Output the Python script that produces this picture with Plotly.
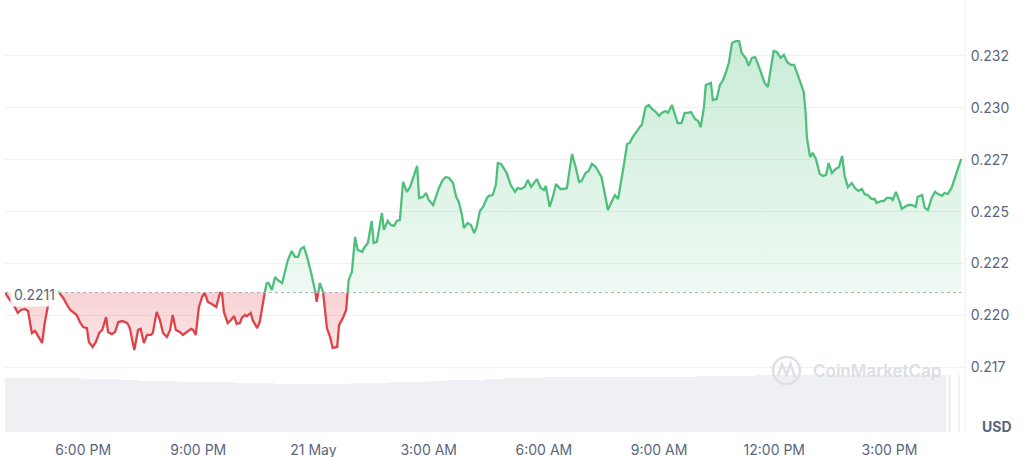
import numpy as np
import pandas as pd
import plotly.graph_objects as go

# ---------------- data ----------------
start_time = "2024-05-20 15:58"
baseline_price = 0.2211

# minutes after start_time
minutes = [
    0, 8, 16, 20, 25, 31, 36, 42, 47, 50, 58, 62, 66, 70, 77, 81, 86, 91, 97, 102,
    106, 112, 117, 122, 128, 131, 137, 142, 147, 152, 158, 161, 167, 172, 177, 184, 191, 195, 202, 208,
    212, 217, 222, 228, 231, 237, 242, 247, 253, 258, 262, 267, 273, 278, 284, 291, 294, 298, 303,
    308, 312, 317, 323, 330, 336, 339, 342, 348, 353, 358, 362, 367, 370, 375, 378, 384, 387, 394, 398,
    401, 406, 409, 412, 417, 422, 426, 433, 437, 442, 448, 453, 458, 462, 467, 472, 478, 484, 487, 492,
    497, 503, 508, 512, 519, 522, 528, 533, 537, 542, 547, 551, 558, 562, 567,
    573, 576, 581, 589, 592, 598, 603, 608, 612, 617, 622, 628, 633, 639, 644, 647, 653, 658, 662, 669,
    673, 678, 684, 689, 694, 700, 705, 709, 714, 717, 723, 728, 733, 737, 742, 747, 753, 756, 762, 767,
    770, 775, 781, 784, 790, 797, 801, 806, 812, 817, 822, 828, 831,
    837, 842, 845, 851, 856, 861, 868, 872, 878, 882, 886, 892, 897, 901, 907, 912, 917, 923, 928, 932,
    937, 942, 947, 953, 958, 962, 967, 972, 976, 981, 986, 992, 995, 1001, 1006, 1011, 1017, 1022, 1026, 1032,
    1036, 1042, 1047, 1051, 1057, 1062, 1067, 1072, 1078, 1083, 1087, 1092,
    1095, 1103, 1106, 1112, 1117, 1122, 1126, 1131, 1136, 1142, 1147, 1151, 1158, 1162, 1167, 1172, 1176, 1183, 1187, 1192,
    1197, 1201, 1206, 1212, 1217, 1222, 1228, 1233, 1237, 1243, 1248, 1251, 1253, 1258, 1262, 1267, 1273, 1278, 1283, 1287,
    1292, 1298, 1303, 1308, 1312, 1317,
    1323, 1328, 1333, 1339, 1343, 1348, 1354, 1359, 1362, 1369, 1373, 1378, 1384, 1387, 1392, 1398, 1401, 1408, 1412, 1417,
    1423, 1426, 1433, 1437, 1442, 1448, 1453, 1458, 1464, 1468, 1473, 1479, 1484, 1489, 1494,
]

prices = [
    0.22110, 0.22074, 0.22036, 0.22012, 0.22026, 0.22031, 0.22021, 0.21915, 0.21925, 0.21910,
    0.21867, 0.21963, 0.22036, 0.22094, 0.22113, 0.22122, 0.22103, 0.22084, 0.22050, 0.22026,
    0.22017, 0.22002, 0.21968, 0.21944, 0.21939, 0.21872, 0.21848, 0.21872, 0.21915, 0.21930,
    0.21992, 0.21920, 0.21910, 0.21920, 0.21968, 0.21973, 0.21963, 0.21939, 0.21833, 0.21930,
    0.21935, 0.21867, 0.21906, 0.21906, 0.21915, 0.22017, 0.21978, 0.21915, 0.21896, 0.21930,
    0.22002, 0.21930, 0.21920, 0.21906, 0.21920, 0.21935, 0.21930, 0.21906, 0.22041,
    0.22089, 0.22108, 0.22065, 0.22055, 0.22041, 0.22108, 0.22108, 0.22017, 0.21963, 0.21978,
    0.21997, 0.21959, 0.21963, 0.21988, 0.22002, 0.21997, 0.22012, 0.21978, 0.21939, 0.21968,
    0.22026, 0.22113, 0.22156, 0.22156, 0.22122, 0.22185, 0.22171, 0.22156, 0.22204, 0.22267,
    0.22310, 0.22282, 0.22282, 0.22320, 0.22330, 0.22282, 0.22209, 0.22137, 0.22065, 0.22156,
    0.22113, 0.21939, 0.21896, 0.21843, 0.21848, 0.21954, 0.21988, 0.22026, 0.22171, 0.22209,
    0.22378, 0.22315, 0.22306, 0.22330, 0.22349,
    0.22455, 0.22349, 0.22354, 0.22494, 0.22412, 0.22455, 0.22436, 0.22431, 0.22455, 0.22460,
    0.22643, 0.22595, 0.22619, 0.22677, 0.22720, 0.22566, 0.22571, 0.22590, 0.22556, 0.22532,
    0.22571, 0.22614, 0.22653, 0.22667, 0.22662, 0.22638, 0.22571, 0.22547, 0.22484, 0.22421,
    0.22445, 0.22436, 0.22397, 0.22426, 0.22503, 0.22523, 0.22566, 0.22576, 0.22580, 0.22629,
    0.22734, 0.22730, 0.22701, 0.22686, 0.22629, 0.22595, 0.22614, 0.22609, 0.22619, 0.22653,
    0.22619, 0.22643, 0.22657,
    0.22614, 0.22604, 0.22624, 0.22523, 0.22571, 0.22633, 0.22609, 0.22609, 0.22614, 0.22701,
    0.22778, 0.22710, 0.22643, 0.22648, 0.22686, 0.22696, 0.22730, 0.22715, 0.22686, 0.22667,
    0.22590, 0.22508, 0.22542, 0.22580, 0.22561, 0.22629, 0.22725, 0.22826, 0.22831, 0.22860,
    0.22884, 0.22908, 0.22918, 0.23004, 0.23014, 0.22995, 0.22980, 0.22961, 0.22976, 0.22985,
    0.22976, 0.23014, 0.22966, 0.22927, 0.22927, 0.22976, 0.22976, 0.22980, 0.22947, 0.22937,
    0.22908, 0.23000,
    0.23110, 0.23120, 0.23038, 0.23043, 0.23110, 0.23134, 0.23168, 0.23216, 0.23313, 0.23322,
    0.23322, 0.23265, 0.23236, 0.23202, 0.23241, 0.23245, 0.23216, 0.23154, 0.23120, 0.23101,
    0.23197, 0.23274, 0.23269, 0.23241, 0.23255, 0.23221, 0.23207, 0.23207, 0.23173, 0.23125,
    0.23077, 0.22976, 0.22855, 0.22763, 0.22783, 0.22754, 0.22682, 0.22672, 0.22677, 0.22734,
    0.22686, 0.22706, 0.22715, 0.22768, 0.22672, 0.22619,
    0.22638, 0.22614, 0.22600, 0.22609, 0.22585, 0.22580, 0.22561, 0.22561, 0.22542, 0.22551,
    0.22551, 0.22566, 0.22566, 0.22556, 0.22595, 0.22547, 0.22513, 0.22527, 0.22532, 0.22532,
    0.22523, 0.22571, 0.22580, 0.22518, 0.22508, 0.22566, 0.22595, 0.22585, 0.22576, 0.22590,
    0.22585, 0.22614, 0.22662, 0.22710, 0.22754,
]

# volume bars: start minute of each 30-minute bar and its volume (arbitrary units)
vol_minutes = list(range(0, 1441, 30))
volumes = [
    540, 540, 540, 540, 535, 530, 520, 510, 510, 505,
    500, 500, 495, 490, 485, 480, 480, 485, 490, 495,
    500, 505, 515, 520, 525, 535, 540, 545, 550, 550,
    550, 550, 550, 550, 550, 555, 560, 565, 565, 570,
    570, 570, 570, 570, 570, 570, 570, 570, 570,
]
tail_vol_minutes = [1476, 1491]
tail_volumes = [570, 570]

tick_minutes = [122, 302, 482, 662, 842, 1022, 1202, 1382]
tick_labels = ["6:00 PM", "9:00 PM", "21 May", "3:00 AM", "6:00 AM", "9:00 AM", "12:00 PM", "3:00 PM"]

y_tickvals = [0.2175, 0.2200, 0.2225, 0.2250, 0.2275, 0.2300, 0.2325]
y_ticktext = ["0.217", "0.220", "0.222", "0.225", "0.227", "0.230", "0.232"]

# ---------------- processing ----------------
t0 = pd.Timestamp(start_time)
def to_time(mins):
    return t0 + pd.to_timedelta(np.asarray(mins, dtype=float), unit="min")

m = np.array(minutes, dtype=float)
p = np.array(prices, dtype=float)
base = baseline_price

aug_m, aug_p = [], []
for i in range(len(m)):
    if i > 0:
        d0, d1 = p[i - 1] - base, p[i] - base
        if d0 * d1 < 0:
            f = d0 / (d0 - d1)
            aug_m.append(m[i - 1] + f * (m[i] - m[i - 1]))
            aug_p.append(base)
    aug_m.append(m[i])
    aug_p.append(p[i])
aug_m = np.array(aug_m)
aug_p = np.array(aug_p)
tx = to_time(aug_m)

green_fill_y = np.maximum(aug_p, base)
red_fill_y = np.minimum(aug_p, base)
green_line_y = [v if v >= base else None for v in aug_p]
red_line_y = [v if v <= base else None for v in aug_p]
base_y = np.full(len(aug_p), base)

GREEN = "#4fbf7c"
RED = "#df4249"
TXT = "#58667e"
GRID = "#eff2f5"
FONT = "Inter, 'Open Sans', sans-serif"

fig = go.Figure()

# volume
fig.add_trace(go.Bar(
    x=to_time(np.array(vol_minutes) + 15), y=volumes, width=30 * 60 * 1000,
    marker=dict(color="#eef0f4", line=dict(width=0)), yaxis="y2", hoverinfo="skip", showlegend=False))
fig.add_trace(go.Bar(
    x=to_time(np.array(tail_vol_minutes)), y=tail_volumes, width=3 * 60 * 1000,
    marker=dict(color="#eef0f4", line=dict(width=0)), yaxis="y2", hoverinfo="skip", showlegend=False))

# fills
fig.add_trace(go.Scatter(x=tx, y=base_y, mode="lines", line=dict(width=0), hoverinfo="skip", showlegend=False))
fig.add_trace(go.Scatter(
    x=tx, y=green_fill_y, mode="lines", line=dict(width=0), fill="tonexty",
    fillgradient=dict(type="vertical", start=base, stop=0.2334,
                      colorscale=[[0, "rgba(76,190,120,0.09)"], [1, "rgba(76,190,120,0.30)"]]),
    hoverinfo="skip", showlegend=False))
fig.add_trace(go.Scatter(x=tx, y=base_y, mode="lines", line=dict(width=0), hoverinfo="skip", showlegend=False))
fig.add_trace(go.Scatter(
    x=tx, y=red_fill_y, mode="lines", line=dict(width=0), fill="tonexty",
    fillgradient=dict(type="vertical", start=0.2182, stop=base,
                      colorscale=[[0, "rgba(224,66,73,0.13)"], [1, "rgba(224,66,73,0.24)"]]),
    hoverinfo="skip", showlegend=False))

# lines
fig.add_trace(go.Scatter(x=tx, y=green_line_y, mode="lines", line=dict(color=GREEN, width=2.3),
                         connectgaps=False, showlegend=False))
fig.add_trace(go.Scatter(x=tx, y=red_line_y, mode="lines", line=dict(color=RED, width=2.3),
                         connectgaps=False, showlegend=False))

# baseline dotted
fig.add_shape(type="line", xref="x", yref="y", x0=tx[0], x1=tx[-1], y0=base, y1=base,
              line=dict(color="#a7afbd", width=1, dash="dot"), layer="above")
# right border
fig.add_shape(type="line", xref="paper", yref="paper", x0=1, x1=1, y0=0, y1=1,
              line=dict(color="#eceff3", width=1))

# watermark (pixel -> paper helpers)
def px(xp):
    return (xp - 5) / 960.0
def py(yp):
    return (432 - yp) / 432.0

fig.add_shape(type="circle", xref="paper", yref="paper",
              x0=px(773), x1=px(800), y0=py(384), y1=py(357),
              line=dict(color="#dde1e7", width=2.5))
fig.add_shape(type="path", xref="paper", yref="paper",
              path=f"M {px(778)} {py(376)} L {px(782)} {py(364)} L {px(786.5)} {py(375)} L {px(790.5)} {py(364)} L {px(795)} {py(377)}",
              line=dict(color="#dde1e7", width=2.5))
fig.add_annotation(xref="paper", yref="paper", x=px(877), y=py(371), xanchor="center", yanchor="middle",
                   text="CoinMarketCap", showarrow=False,
                   font=dict(family=FONT, size=17, color="#dbdfe5", weight=600))

# baseline label
fig.add_annotation(xref="paper", yref="y", x=px(34), y=base, xanchor="center", yanchor="middle",
                   yshift=-2, text="0.2211", showarrow=False,
                   font=dict(family=FONT, size=14, color=TXT), bgcolor="rgba(255,255,255,0.92)", borderpad=3)
# USD
fig.add_annotation(xref="paper", yref="paper", x=px(997), y=py(426), xanchor="center", yanchor="middle",
                   text="USD", showarrow=False,
                   font=dict(family=FONT, size=14, color=TXT, weight="bold"))

fig.update_layout(
    width=1024, height=457,
    margin=dict(l=5, r=59, t=0, b=25, autoexpand=False),
    paper_bgcolor="white", plot_bgcolor="white",
    font=dict(family=FONT, size=14, color=TXT),
    bargap=0, barmode="overlay",
    xaxis=dict(type="date", range=[to_time([0])[0], to_time([1500])[0]],
               tickvals=to_time(tick_minutes), ticktext=tick_labels,
               showgrid=False, zeroline=False, showline=False,
               ticks="outside", ticklen=5, tickcolor="rgba(0,0,0,0)",
               tickfont=dict(family=FONT, size=14, color=TXT)),
    yaxis=dict(side="right", range=[0.214382, 0.235198], tickvals=y_tickvals, ticktext=y_ticktext,
               showgrid=True, gridcolor=GRID, gridwidth=1, zeroline=False, showline=False,
               ticks="outside", ticklen=2, tickcolor="rgba(0,0,0,0)",
               tickfont=dict(family=FONT, size=14, color=TXT)),
    yaxis2=dict(overlaying="y", range=[0, 4320], visible=False),
    showlegend=False,
)

fig.write_html("out.html", config={"displayModeBar": False},
               post_script="document.body.style.margin='0';document.body.style.padding='0';")
